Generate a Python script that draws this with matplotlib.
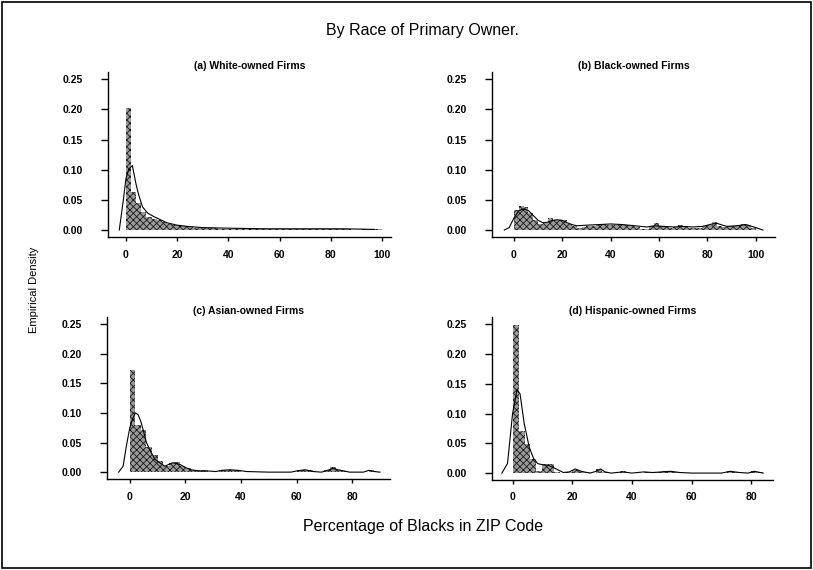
import matplotlib
matplotlib.use("Agg")
import matplotlib.pyplot as plt
from matplotlib.patches import Rectangle

plt.rcParams['font.family'] = ['Liberation Sans', 'DejaVu Sans']
plt.rcParams['hatch.linewidth'] = 0.6

BIN_W = 2

# (a) White-owned firms, bins of width 2 starting at 0
white_hist = [0.203, 0.063, 0.045, 0.030, 0.022, 0.019, 0.017, 0.013, 0.010, 0.009,
              0.009, 0.006, 0.005, 0.004, 0.004, 0.003, 0.003, 0.003, 0.002, 0.002,
              0.002, 0.002, 0.002, 0.002, 0.003, 0.001, 0.001, 0.002, 0.001, 0.001,
              0.001, 0.002, 0.002, 0.001, 0.001, 0.001, 0.001, 0.002, 0.001, 0.002,
              0.001, 0.002, 0.002, 0.001, 0.0, 0.0, 0.001, 0.002, 0.002, 0.001]
white_kde_x = [-2.6, -1, 0, 1, 2.5, 4, 5, 6.5, 8.5, 11, 13, 16, 20, 24, 30, 40, 55, 70, 85, 97]
white_kde_y = [0, 0.05, 0.085, 0.1, 0.107, 0.075, 0.058, 0.038, 0.028, 0.022, 0.018,
               0.012, 0.008, 0.006, 0.004, 0.003, 0.002, 0.002, 0.002, 0.001]

# (b) Black-owned firms
black_hist = [0.033, 0.040, 0.038, 0.028, 0.016, 0.010, 0.011, 0.020, 0.017, 0.017,
              0.016, 0.010, 0.007, 0.003, 0.005, 0.007, 0.007, 0.008, 0.010, 0.009,
              0.009, 0.008, 0.009, 0.008, 0.007, 0.005, 0.002, 0.001, 0.006, 0.011,
              0.006, 0.005, 0.004, 0.005, 0.008, 0.005, 0.004, 0.003, 0.004, 0.006,
              0.008, 0.014, 0.006, 0.005, 0.006, 0.007, 0.008, 0.010, 0.008, 0.004]
black_kde_x = [-4, -2, 0, 2, 4, 6, 8, 10, 12, 14, 16, 18, 20, 22, 24, 26, 30, 35, 40, 45,
               50, 55, 58, 62, 66, 70, 74, 78, 82, 84, 88, 92, 96, 100, 103]
black_kde_y = [0, 0.004, 0.02, 0.032, 0.035, 0.032, 0.024, 0.016, 0.012, 0.013, 0.016,
               0.017, 0.016, 0.012, 0.009, 0.007, 0.008, 0.009, 0.010, 0.009, 0.007,
               0.005, 0.007, 0.006, 0.005, 0.006, 0.005, 0.006, 0.010, 0.011, 0.006,
               0.007, 0.009, 0.004, 0]

# (c) Asian-owned firms
asian_hist = [0.173, 0.079, 0.072, 0.042, 0.029, 0.018, 0.010, 0.016, 0.017, 0.010,
              0.007, 0.004, 0.004, 0.004, 0.001, 0.0, 0.004, 0.004, 0.004, 0.004,
              0.001, 0.0, 0.0, 0.0, 0.0, 0.0, 0.0, 0.0, 0.0, 0.0,
              0.003, 0.004, 0.003, 0.0, 0.0, 0.003, 0.008, 0.004, 0.002, 0.0,
              0.0, 0.0, 0.0, 0.004, 0.001]
asian_kde_x = [-4, -2.4, -1.2, 0, 1, 2, 3, 4, 5, 6, 7.5, 9, 11, 12.6, 14, 15.5, 18, 20,
               22, 25, 28, 31, 33, 36, 39, 42, 50, 58, 60, 63, 66, 69, 71, 73, 76, 79,
               84, 86, 88, 90]
asian_kde_y = [0, 0.01, 0.045, 0.075, 0.09, 0.1, 0.097, 0.085, 0.068, 0.05, 0.035, 0.022,
               0.015, 0.01, 0.013, 0.016, 0.013, 0.008, 0.004, 0.002, 0.002, 0.001, 0.003,
               0.004, 0.003, 0.001, 0, 0, 0.002, 0.004, 0.001, 0, 0.003, 0.006, 0.003, 0,
               0, 0.003, 0.001, 0]

# (d) Hispanic-owned firms
hisp_hist = [0.248, 0.071, 0.049, 0.024, 0.004, 0.015, 0.015, 0.001, 0.0, 0.001,
             0.006, 0.003, 0.001, 0.0, 0.007, 0.002, 0.0, 0.0, 0.003, 0.0,
             0.0, 0.0, 0.002, 0.001, 0.001, 0.003, 0.003, 0.002, 0.0, 0.0,
             0.0, 0.0, 0.0, 0.0, 0.0, 0.0, 0.003, 0.001, 0.0, 0.0,
             0.003, 0.001]
hisp_kde_x = [-3.6, -1.7, 0, 1.5, 2.5, 3.9, 5.6, 7, 8.4, 10, 12, 14.6, 17, 19, 21, 23, 26,
              28, 29.5, 31, 33, 37, 40, 44, 47, 50, 53, 56, 60, 70, 73, 76, 79, 81, 84]
hisp_kde_y = [0, 0.016, 0.1, 0.14, 0.133, 0.083, 0.043, 0.025, 0.016, 0.014, 0.013, 0.007,
              0.001, 0.002, 0.007, 0.003, 0, 0.003, 0.007, 0.002, 0, 0.002, 0, 0.002,
              0.001, 0.002, 0.003, 0.001, 0, 0, 0.003, 0.001, 0, 0.003, 0]

y_ticks = [0.0, 0.05, 0.10, 0.15, 0.20, 0.25]

panels = [
    ("(a) White-owned Firms", white_hist, white_kde_x, white_kde_y,
     [0, 20, 40, 60, 80, 100], (-7.0, 103.5), [108, 72, 391, 237]),
    ("(b) Black-owned Firms", black_hist, black_kde_x, black_kde_y,
     [0, 20, 40, 60, 80, 100], (-9.1, 108.0), [492, 72, 775, 237]),
    ("(c) Asian-owned Firms", asian_hist, asian_kde_x, asian_kde_y,
     [0, 20, 40, 60, 80], (-8.2, 93.6), [107, 317, 390, 479]),
    ("(d) Hispanic-owned Firms", hisp_hist, hisp_kde_x, hisp_kde_y,
     [0, 20, 40, 60, 80], (-6.9, 87.3), [492, 317, 773, 480]),
]

W, H = 813, 570
fig = plt.figure(figsize=(W / 100, H / 100), dpi=100)

for title, hist, kx, ky, xt, xlim, box in panels:
    x0, y0, x1, y1 = box
    ax = fig.add_axes([x0 / W, 1 - y1 / H, (x1 - x0) / W, (y1 - y0) / H])
    lefts = [i * BIN_W for i in range(len(hist))]
    # dark cross-hatched histogram bars
    ax.bar(lefts, hist, width=BIN_W, align='edge', facecolor='#9a9a9a',
           edgecolor='#1a1a1a', hatch='xxxxx', linewidth=0)
    ax.plot(kx, ky, color='black', lw=0.8)
    ax.set_xlim(*xlim)
    ax.set_ylim(-0.0116, 0.262)
    ax.set_xticks(xt)
    ax.set_yticks(y_ticks)
    ax.set_yticklabels([f"{v:.2f}" for v in y_ticks])
    for s in ('top', 'right'):
        ax.spines[s].set_visible(False)
    for s in ('left', 'bottom'):
        ax.spines[s].set_linewidth(1.0)
    ax.tick_params(axis='y', length=5, width=1.0, pad=13, labelsize=7.5)
    ax.tick_params(axis='x', length=3, width=1.0, pad=6, labelsize=7.5)
    for lab in ax.get_xticklabels() + ax.get_yticklabels():
        lab.set_fontweight('bold')
    ax.set_title(title, fontsize=7.5, fontweight='bold', pad=2)

fig.text(423 / W, 1 - 30 / H, "By Race of Primary Owner.", ha='center', va='center',
         fontsize=11.5)
fig.text(423 / W, 1 - 526 / H, "Percentage of Blacks in ZIP Code", ha='center',
         va='center', fontsize=11.5)
fig.text(34 / W, 1 - 290 / H, "Empirical Density", ha='center', va='center',
         rotation=90, fontsize=8)

fig.add_artist(Rectangle((2 / W, 2 / H), (W - 4) / W, (H - 4) / H,
                         transform=fig.transFigure, fill=False, lw=1.2, color='black'))

fig.savefig("out.png", dpi=100)
